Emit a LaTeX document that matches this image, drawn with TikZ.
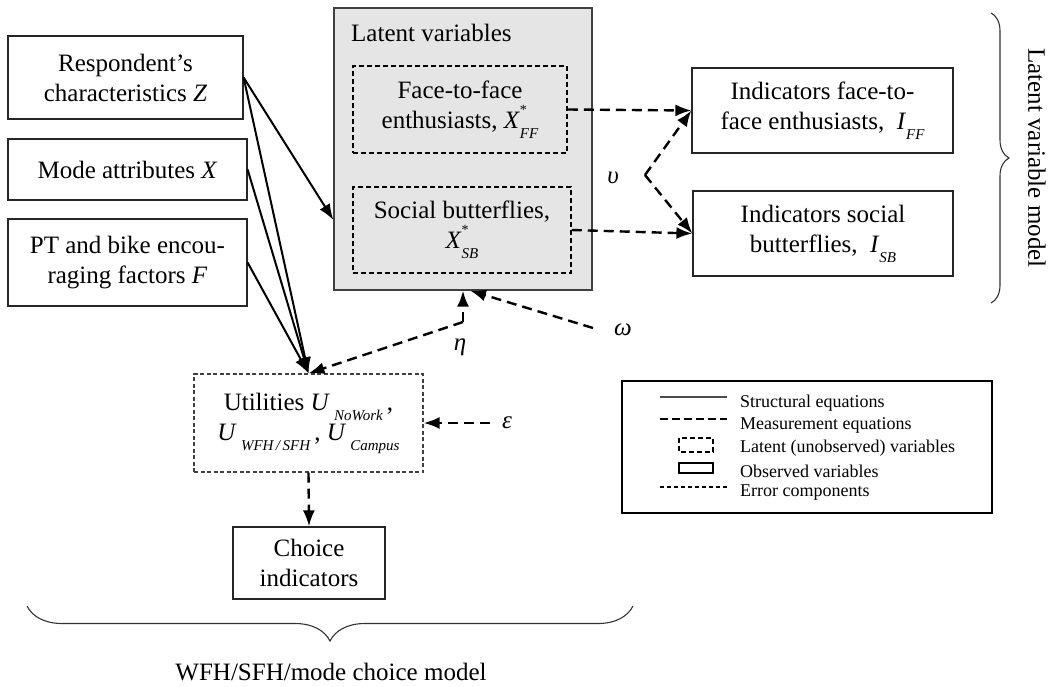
\documentclass[tikz,border=0pt]{standalone}
\usepackage{fontspec}
\setmainfont{Liberation Serif}
\usetikzlibrary{arrows.meta,decorations.pathreplacing,calc}
\newcommand\lsub[1]{\raisebox{-0.4em}{\fontsize{15}{15}\selectfont\itshape #1}}
\newcommand\lstar{\rlap{\raisebox{0.55em}{\fontsize{14}{14}\selectfont *}}}
\begin{document}
\begin{tikzpicture}[x=1pt,y=-1pt,
  mainfont/.style={font=\fontsize{25}{30}\selectfont},
  box/.style={draw=black!85, line width=1.2pt, align=center, inner sep=0pt, mainfont},
  latbox/.style={box, draw=black, line width=1.5pt, dash pattern=on 5pt off 3pt},
  errbox/.style={box, draw=black!75, line width=1.2pt, dash pattern=on 4pt off 2.5pt},
  tip/.style={-{Latex[length=16pt,width=12pt]}},
  sarrow/.style={line width=2pt, tip},
  darrow/.style={line width=2.4pt, tip, dash pattern=on 10pt off 6pt},
  legfont/.style={font=\fontsize{18}{20}\selectfont, anchor=west, inner sep=0pt},
  bracestyle/.style={draw=black!80, line width=1.1pt, decorate}
]
\useasboundingbox (0,0) rectangle (1048,686);

% left observed boxes
\node[box, minimum width=235pt, minimum height=83pt] (resp) at (125.5,77.5) {Respondent’s\\characteristics \textit{Z}};
\node[box, minimum width=239pt, minimum height=61pt] (mode) at (127.5,169.5) {Mode attributes \textit{X}};
\node[box, minimum width=239pt, minimum height=87pt] (pt) at (127.5,262.5) {PT and bike encou-\\raging factors \textit{F}};

% latent block
\node[draw=black!75, line width=1.2pt, fill=gray!20, minimum width=258pt, minimum height=282pt, inner sep=0pt] (lat) at (463,149) {};
\node[mainfont, anchor=west, inner sep=0pt] (latlab) at (351,33) {Latent variables};
\node[latbox, fill=gray!20, minimum width=214pt, minimum height=87pt] (ff) at (460,109.5) {Face-to-face\\enthusiasts, \textit{X}\lstar\lsub{FF}};
\node[latbox, fill=gray!20, minimum width=218pt, minimum height=86pt] (sb) at (462,230) {Social butterflies,\\\textit{X}\lstar\lsub{SB}};

% indicators
\node[box, minimum width=261pt, minimum height=85pt] (indff) at (822.5,110.5) {Indicators face-to-\\face enthusiasts,\ \ \textit{I}\lsub{FF}};
\node[box, minimum width=260pt, minimum height=85pt] (indsb) at (823,233.5) {Indicators social\\butterflies,\ \ \textit{I}\lsub{SB}};

% utilities and choice
\node[errbox, minimum width=229pt, minimum height=98pt] (util) at (308.5,423) {Utilities \textit{U}\,\lsub{NoWork}\,,\\\textit{U}\,\lsub{WFH\,/\,SFH}\,, \textit{U}\,\lsub{Campus}};
\node[box, minimum width=152pt, minimum height=72pt] (choice) at (309,563) {Choice\\indicators};

% greek labels
\node[mainfont, inner sep=0pt] (ups) at (613,178) {\textit{υ}};
\coordinate (upsv) at (645,175);
\node[mainfont, inner sep=0pt] (eta) at (460,347) {\textit{η}};
\coordinate (etac) at (463,322);
\node[mainfont, inner sep=0pt] (om) at (623,330) {\textit{ω}};
\coordinate (omst) at (593,328);
\node[mainfont, inner sep=0pt] (eps) at (507,423) {\textit{ε}};
\coordinate (epst) at (490,423);

% structural arrows
\draw[sarrow] (resp.east) -- ([yshift=-71pt]lat.west);
\draw[sarrow] (resp.east) -- (util.north);
\draw[sarrow] (mode.east) -- (util.north);
\draw[sarrow] (pt.east) -- (util.north);

% measurement arrows
\draw[darrow] (ff.east) -- (indff.west);
\draw[darrow] (sb.east) -- (indsb.west);
\draw[darrow] (upsv) -- (indff.west);
\draw[darrow] (upsv) -- (indsb.west);
\draw[darrow] (etac) -- (util.north);
\draw[darrow] (etac) -- (lat.south);
\draw[darrow] (omst) -- ([xshift=7pt]lat.south);
\draw[darrow] (epst) -- (util.east);
\draw[darrow] (util.south) -- (choice.north);

% braces
\draw[bracestyle, decoration={brace, amplitude=18pt}] (991,13) -- (991,303);
\node[mainfont, rotate=-90, inner sep=0pt] (lvm) at (1037,158) {Latent variable model};
\draw[bracestyle, decoration={brace, amplitude=35pt}] (633,606) -- (27,606);
\node[mainfont, inner sep=0pt] (wfh) at (331,672) {WFH/SFH/mode choice model};

% legend
\node[draw=black, line width=2.4pt, minimum width=370pt, minimum height=132pt, inner sep=0pt] (leg) at (807,447) {};
\coordinate (a1) at (660,397); \coordinate (b1) at (727,397);
\draw[black!70, line width=1.5pt] (a1) -- (b1);
\coordinate (a2) at (660,419); \coordinate (b2) at (727,419);
\draw[black, line width=1.4pt, dash pattern=on 8pt off 4pt] (a2) -- (b2);
\coordinate (a3) at (679,438); \coordinate (b3) at (713,452);
\draw[black, line width=1.6pt, dash pattern=on 5pt off 3pt] (a3) rectangle (b3);
\coordinate (a4) at (679,463); \coordinate (b4) at (713,473);
\draw[black, line width=1.6pt] (a4) rectangle (b4);
\coordinate (a5) at (660,487); \coordinate (b5) at (727,487);
\draw[black, line width=1.2pt, dash pattern=on 4pt off 3pt] (a5) -- (b5);
\node[legfont] (l1) at (740,403) {Structural equations};
\node[legfont] (l2) at (740,425) {Measurement equations};
\node[legfont] (l3) at (740,448) {Latent (unobserved) variables};
\node[legfont] (l4) at (740,471) {Observed variables};
\node[legfont] (l5) at (740,493) {Error components};
\end{tikzpicture}
\end{document}
